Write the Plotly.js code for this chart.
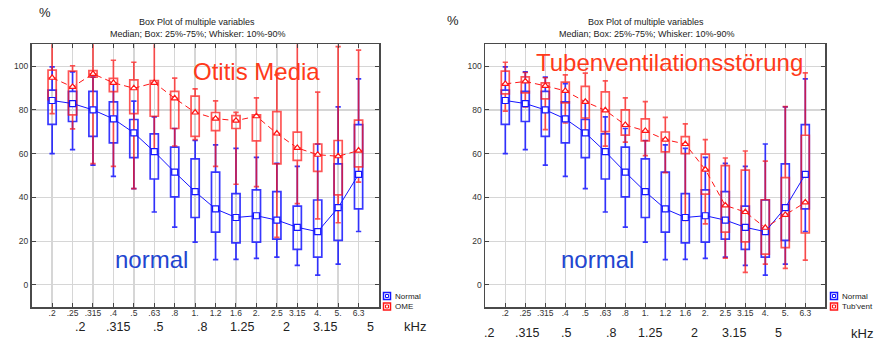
<!DOCTYPE html>
<html>
<head>
<meta charset="utf-8">
<script src="https://cdn.plot.ly/plotly-3.0.1.min.js"></script>
<style>
html,body{margin:0;padding:0;background:#fff;}
#chart{width:877px;height:342px;}
</style>
</head>
<body>
<div id="chart"></div>
<script>
// ---- data ----
var freqLabels = ['.2','.25','.315','.4','.5','.63','.8','1.','1.2','1.6','2.','2.5','3.15','4.','5.','6.3'];

// Normal (shared by both panels)
var normalP10 = [60, 61.8, 54.7, 49.6, 44, 33.3, 26.4, 19.5, 11.5, 11.6, 12.1, 12.7, 8.9, 4.4, 9.5, 24.4];
var normalQ1  = [73.4, 74.7, 67.9, 64.9, 58.2, 48.4, 40.2, 30.8, 24.1, 19.2, 19.5, 20.9, 16.2, 12.7, 20.3, 34.7];
var normalMed = [84.3, 82.9, 80, 75.9, 69.5, 60.9, 51.5, 42.6, 34.7, 30.8, 31.6, 29.6, 26.3, 24.3, 35.3, 50.5];
var normalQ3  = [89, 88.5, 88.5, 83.7, 75.6, 69, 63, 57.6, 51.5, 41.7, 43.4, 42.6, 36, 38.8, 55.3, 73.3];
var normalP90 = [99.7, 97.4, 95, 92, 84, 76.8, 71.5, 66, 64, 62.4, 58.3, 55.5, 54.2, 64.4, 81.4, 94.2];

// OME (left panel)
var omeP10 = [78.3, 71.3, 55.4, 54.2, 44, 60, 63.5, 66.4, 54.2, 46, 44.9, 21.7, 37.1, 30.2, 28.4, 47];
var omeQ1  = [84.7, 77.7, 95, 88.4, 78.3, 77.1, 71.5, 67.9, 70.5, 71.5, 65.8, 55.3, 56.9, 51.9, 41.1, 53.9];
var omeMed = [94.7, 90.5, 96.5, 92.4, 89.9, 92.4, 85.3, 78.8, 76, 75.1, 77.1, 69.2, 62.6, 59.5, 58.8, 61.4];
var omeQ3  = [98.2, 97.7, 98, 94.4, 93.7, 93.4, 88.5, 86.3, 78.8, 77.4, 77.7, 79.2, 69.8, 64.4, 66, 75.3];
var omeP90 = [115, 100.2, 115, 102.7, 101.8, 115, 94.5, 89.6, 84.1, 78.9, 85.5, 96, 115, 88.1, 108.9, 107.3];

// Tub'vent (right panel)
var tubP10 = [79.4, 81.4, 71, 74, 70.5, 63.4, 65.3, 59.1, 51.3, 29.5, 27.9, 12.2, 5.7, 9.5, 7.5, 11.3];
var tubQ1  = [87.3, 87.8, 85, 83.2, 76.3, 70.1, 68.5, 65.8, 60.8, 60, 41.5, 24.1, 19.6, 14, 17, 23.7];
var tubMed = [91.9, 93, 91, 88.7, 83.7, 79.8, 73.1, 70.4, 66.4, 64.4, 52.7, 36.3, 33.3, 26.1, 32, 37.7];
var tubQ3  = [97.7, 95.1, 92.4, 92.7, 90.8, 88.2, 80, 75.9, 69.9, 67.8, 59.8, 54.5, 52.5, 38.9, 49, 68.4];
var tubP90 = [101.8, 97.1, 94.7, 96, 96.8, 93.3, 85.5, 83.8, 76.6, 73.6, 66.4, 58, 61.2, 56.6, 81.5, 96.9];

var yTicks = [0, 20, 40, 60, 80, 100];
var leftBigTicks  = ['.2', '.315', '.5', '.8', '1.25', '2', '3.15', '5'];
var rightBigTicks = ['.2', '.315', '.5', '.8', '1.25', '2', '3.15', '5'];

// ---- build ----
var W = 877, H = 342;
var pos = freqLabels.map(function(_, i){ return i; });
var FONT = 'Liberation Sans, Arial, Helvetica, sans-serif';
var BLUE = 'rgba(20,20,255,0.85)';
var RED  = 'rgba(255,20,20,0.72)';

function boxTrace(q1, med, q3, lo, hi, color, xa, ya, name){
  return {type:'box', name:name, x:pos, q1:q1, median:med, q3:q3, lowerfence:lo, upperfence:hi,
    xaxis:xa, yaxis:ya, width:0.4, whiskerwidth:0.65, boxpoints:false,
    line:{color:color, width:1.7}, fillcolor:'rgba(0,0,0,0)', hoverinfo:'skip', showlegend:false};
}
function medTrace(med, color, sym, dash, xa, ya){
  return {type:'scatter', mode:'lines+markers', x:pos, y:med, xaxis:xa, yaxis:ya,
    line:{color:color, width:1, dash:dash},
    marker:{symbol:sym, size:6, color:'#ffffff', line:{color:color, width:1.2}},
    hoverinfo:'skip', showlegend:false};
}

var data = [
  boxTrace(normalQ1, normalMed, normalQ3, normalP10, normalP90, BLUE, 'x', 'y', 'Normal'),
  boxTrace(omeQ1, omeMed, omeQ3, omeP10, omeP90, RED, 'x', 'y', 'OME'),
  medTrace(normalMed, '#1515ff', 'square', 'solid', 'x', 'y'),
  medTrace(omeMed, '#ff1515', 'triangle-up', '6px,4px', 'x', 'y'),
  boxTrace(normalQ1, normalMed, normalQ3, normalP10, normalP90, BLUE, 'x2', 'y2', 'Normal'),
  boxTrace(tubQ1, tubMed, tubQ3, tubP10, tubP90, RED, 'x2', 'y2', "Tub'vent"),
  medTrace(normalMed, '#1515ff', 'square', 'solid', 'x2', 'y2'),
  medTrace(tubMed, '#ff1515', 'triangle-up', '6px,4px', 'x2', 'y2')
];

function xAxis(domain, anchor){
  return {domain:domain, anchor:anchor, range:[-1,16], tickmode:'array', tickvals:pos, ticktext:freqLabels,
    tickfont:{family:FONT, size:8.5, color:'#333'}, ticks:'inside', ticklen:4, tickcolor:'#444',
    ticklabelstandoff:-3,
    showgrid:true, gridcolor:'#d6d6d6', gridwidth:1.5, zeroline:false,
    showline:true, linecolor:'#4a4a4a', linewidth:1.8, mirror:'ticks', fixedrange:true};
}
function yAxis(anchor){
  return {domain:[(H-306.7)/H, (H-44.3)/H], anchor:anchor, range:[-10,110], tickmode:'array', tickvals:yTicks,
    tickfont:{family:FONT, size:8.5, color:'#333'}, ticks:'inside', ticklen:4, tickcolor:'#444',
    showgrid:true, gridcolor:'#d6d6d6', gridwidth:1.2, zeroline:false,
    showline:true, linecolor:'#4a4a4a', linewidth:1.8, mirror:'ticks', fixedrange:true};
}

function ann(text, px, py, size, color, anchor){
  return {text:text, xref:'paper', yref:'paper', x:px/W, y:1-py/H, xanchor:anchor||'center', yanchor:'middle',
    showarrow:false, font:{family:FONT, size:size, color:color}};
}

var annotations = [
  ann('%', 45, 13, 13, '#222'),
  ann('%', 453, 20, 13, '#222'),
  ann('Box Plot of multiple variables', 197, 22.5, 9, '#222'),
  ann('Median; Box: 25%-75%; Whisker: 10%-90%', 198, 34, 9, '#222'),
  ann('Box Plot of multiple variables', 646, 22.5, 9, '#222'),
  ann('Median; Box: 25%-75%; Whisker: 10%-90%', 647, 33.5, 9, '#222'),
  ann('Otitis Media', 256, 71, 24, '#ff3a1a'),
  ann('Tubenventilationsstörung', 669, 62, 24, '#ff3a1a'),
  ann('normal', 151, 259, 24, '#2245d0'),
  ann('normal', 597, 259, 24, '#2245d0'),
  ann('kHz', 415, 326, 13, '#222'),
  ann('kHz', 862, 333, 13, '#222'),
  ann('Normal', 393, 296, 8, '#222', 'left'),
  ann('OME', 393, 306.5, 8, '#222', 'left'),
  ann('Normal', 840, 296, 8, '#222', 'left'),
  ann("Tub'vent", 840, 306.5, 8, '#222', 'left')
];
var leftBigX  = [80, 118, 158, 202, 242, 286, 325, 370];
var rightBigX = [489, 527, 566, 611, 650, 694, 734, 778];
leftBigTicks.forEach(function(t, i){ annotations.push(ann(t, leftBigX[i], 327, 12.5, '#222')); });
rightBigTicks.forEach(function(t, i){ annotations.push(ann(t, rightBigX[i], 333, 12.5, '#222')); });

// legend icons (decoration)
function icon(cx, cy, color){
  return [
    {type:'rect', xref:'paper', yref:'paper', x0:(cx-3.5)/W, x1:(cx+3.5)/W, y0:1-(cy+3.5)/H, y1:1-(cy-3.5)/H,
      line:{color:color, width:1.5}, fillcolor:'rgba(0,0,0,0)'},
    {type:'rect', xref:'paper', yref:'paper', x0:(cx-1.5)/W, x1:(cx+1.5)/W, y0:1-(cy+1.5)/H, y1:1-(cy-1.5)/H,
      line:{color:color, width:1}, fillcolor:'rgba(0,0,0,0)'}
  ];
}
var shapes = [].concat(icon(387, 296, '#1515ff'), icon(387, 306.5, '#ff1515'),
                       icon(834, 296, '#1515ff'), icon(834, 306.5, '#ff1515'));

var layout = {
  width:W, height:H, autosize:false, margin:{l:0,r:0,t:0,b:0},
  paper_bgcolor:'#fff', plot_bgcolor:'#fff', showlegend:false, boxmode:'overlay',
  font:{family:FONT, color:'#222'},
  xaxis: xAxis([31.7/W, 379/W], 'y'),
  yaxis: yAxis('x'),
  xaxis2: xAxis([485.3/W, 825.3/W], 'y2'),
  yaxis2: yAxis('x2'),
  annotations: annotations,
  shapes: shapes
};

Plotly.newPlot('chart', data, layout, {staticPlot:true, displayModeBar:false});
</script>
</body>
</html>
